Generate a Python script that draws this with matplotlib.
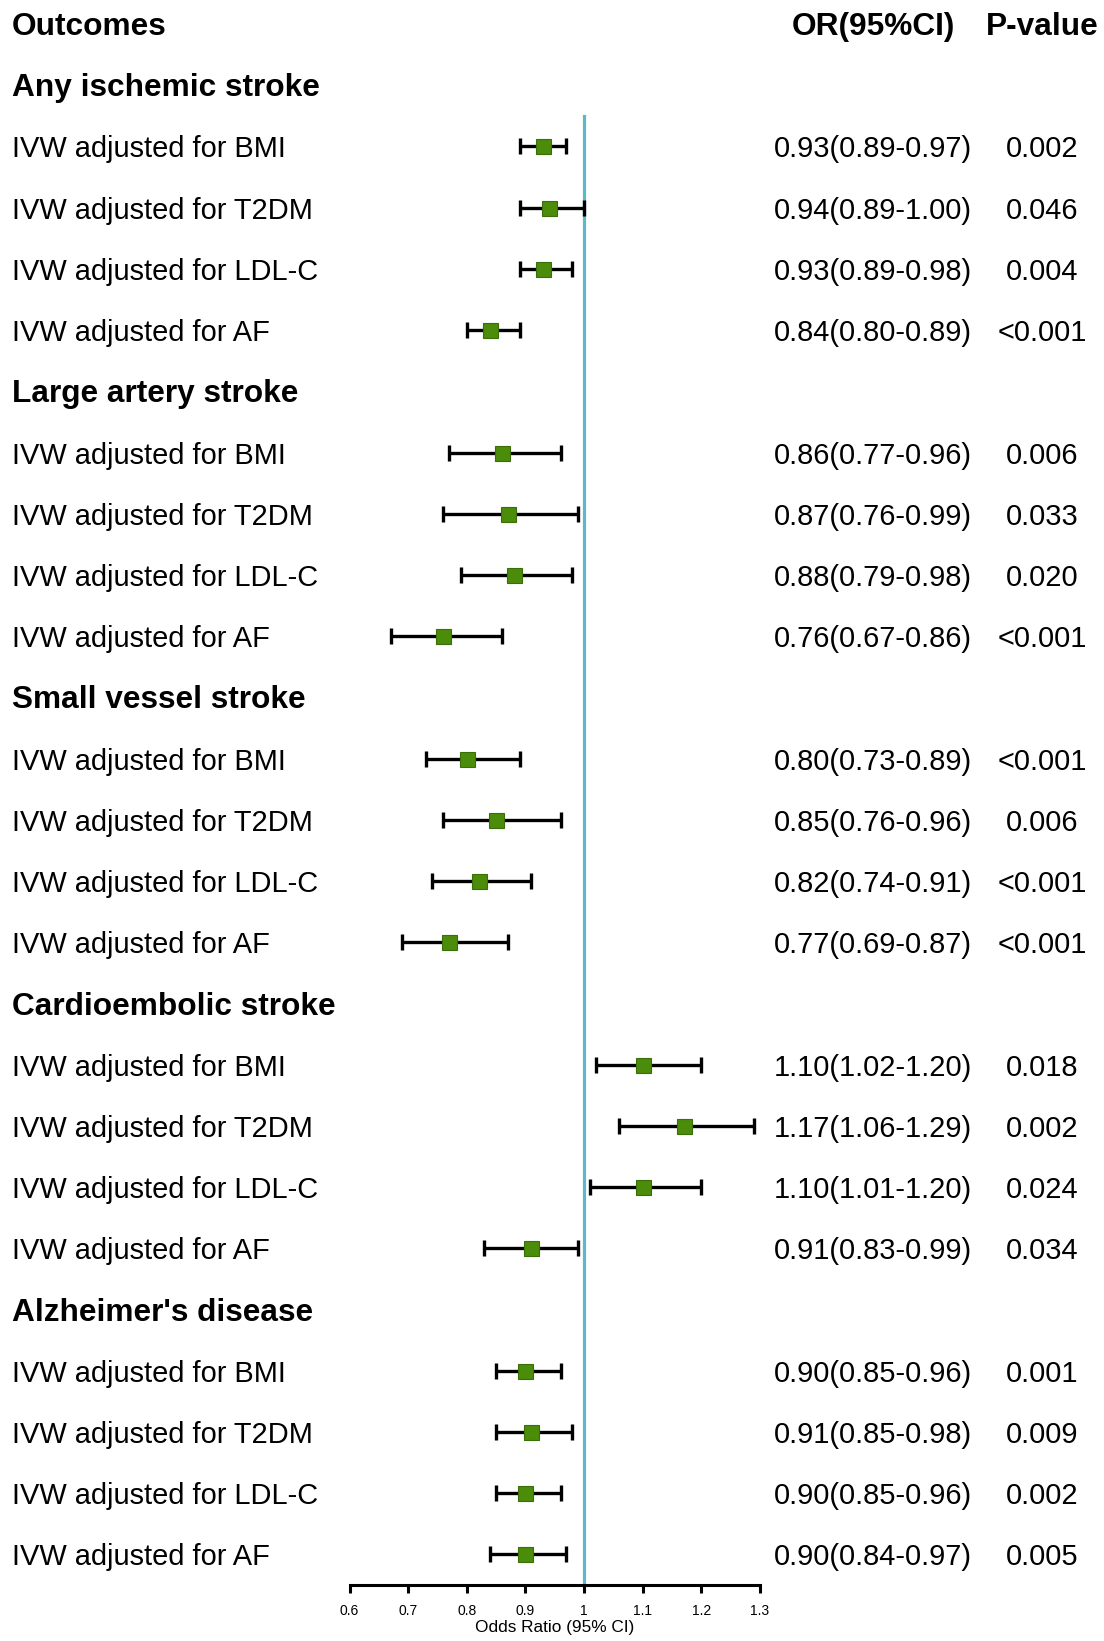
import numpy as np
import matplotlib
matplotlib.use('Agg')
import matplotlib.pyplot as plt
import matplotlib.transforms as mtrans

# Data
groups = ["Any ischemic stroke", "Large artery stroke", "Small vessel stroke",
          "Cardioembolic stroke", "Alzheimer's disease"]
methods = ["IVW adjusted for BMI", "IVW adjusted for T2DM",
           "IVW adjusted for LDL-C", "IVW adjusted for AF"]
or_vals = [0.93, 0.94, 0.93, 0.84,
           0.86, 0.87, 0.88, 0.76,
           0.80, 0.85, 0.82, 0.77,
           1.10, 1.17, 1.10, 0.91,
           0.90, 0.91, 0.90, 0.90]
ci_low = [0.89, 0.89, 0.89, 0.80,
          0.77, 0.76, 0.79, 0.67,
          0.73, 0.76, 0.74, 0.69,
          1.02, 1.06, 1.01, 0.83,
          0.85, 0.85, 0.85, 0.84]
ci_high = [0.97, 1.00, 0.98, 0.89,
           0.96, 0.99, 0.98, 0.86,
           0.89, 0.96, 0.91, 0.87,
           1.20, 1.29, 1.20, 0.99,
           0.96, 0.98, 0.96, 0.97]
p_vals = ["0.002", "0.046", "0.004", "<0.001",
          "0.006", "0.033", "0.020", "<0.001",
          "<0.001", "0.006", "<0.001", "<0.001",
          "0.018", "0.002", "0.024", "0.034",
          "0.001", "0.009", "0.002", "0.005"]
xticks = [0.6, 0.7, 0.8, 0.9, 1, 1.1, 1.2, 1.3]
xticklabels = ['0.6', '0.7', '0.8', '0.9', '1', '1.1', '1.2', '1.3']

# Style
plt.rcParams['font.family'] = ['Liberation Sans', 'DejaVu Sans']
W, H = 1104, 1641
fsize = 20.9
hsize = 22.8
green = '#4b8c0a'
green_edge = '#3b6d08'
refcol = '#5fb8c8'
dy = 0.05  # small downward shift of text relative to the marks

# Row layout: row 0 header, then heading + 4 rows per group
rows_y = []
head_y = []
r = 1
for g in groups:
    head_y.append(r)
    rows_y.extend([r + 1, r + 2, r + 3, r + 4])
    r += 5
rows_y = np.array(rows_y)
last_row = r - 1

fig = plt.figure(figsize=(W / 100, H / 100), dpi=100)
ax_left = 349.5 / W
ax_right = 760 / W
ax_bottom = 1 - 1585 / H
ax = fig.add_axes([ax_left, ax_bottom, ax_right - ax_left, 1585 / H])
ax.set_xlim(0.6, 1.3)
ax.set_ylim(last_row + 0.5, -24 / 61.2)

# Reference line at OR = 1
ax.plot([1, 1], [1.5, last_row + 0.5], color=refcol, linewidth=2.3, zorder=1)

# Error bars and points
or_arr = np.array(or_vals)
lo_arr = np.array(ci_low)
hi_arr = np.array(ci_high)
ax.errorbar(or_arr, rows_y, xerr=[or_arr - lo_arr, hi_arr - or_arr], fmt='none',
            ecolor='black', elinewidth=2.4, capsize=5.5, capthick=2.4, zorder=2)
ax.plot(or_arr, rows_y, 's', markersize=10.8, markerfacecolor=green,
        markeredgecolor=green_edge, markeredgewidth=0.8, zorder=3)

# Axis styling
for s in ['top', 'left', 'right']:
    ax.spines[s].set_visible(False)
ax.spines['bottom'].set_linewidth(2.2)
ax.set_xticks(xticks)
ax.set_xticklabels(xticklabels, fontsize=10)
ax.tick_params(axis='x', length=6, width=2.2, pad=8)
ax.set_yticks([])
ax.set_xlabel('Odds Ratio (95% CI)', fontsize=12.4, labelpad=1)
ax.patch.set_alpha(0)

# Table texts
tr = mtrans.blended_transform_factory(fig.transFigure, ax.transData)
x_lab = 11.5 / W
x_or = 873 / W
x_p = 1042 / W
ax.text(x_lab, dy, 'Outcomes', transform=tr, fontsize=hsize, fontweight='bold',
        ha='left', va='center', clip_on=False)
ax.text(x_or, dy, 'OR(95%CI)', transform=tr, fontsize=hsize, fontweight='bold',
        ha='center', va='center', clip_on=False)
ax.text(x_p, dy, 'P-value', transform=tr, fontsize=hsize, fontweight='bold',
        ha='center', va='center', clip_on=False)
for g, y in zip(groups, head_y):
    ax.text(x_lab, y + dy, g, transform=tr, fontsize=hsize, fontweight='bold',
            ha='left', va='center', clip_on=False)
for i, y in enumerate(rows_y):
    ax.text(x_lab, y + dy, methods[i % 4], transform=tr, fontsize=fsize,
            ha='left', va='center', clip_on=False)
    ax.text(x_or, y + dy, '%.2f(%.2f-%.2f)' % (or_vals[i], ci_low[i], ci_high[i]),
            transform=tr, fontsize=fsize, ha='center', va='center', clip_on=False)
    ax.text(x_p, y + dy, p_vals[i], transform=tr, fontsize=fsize,
            ha='center', va='center', clip_on=False)

plt.savefig('out.png', dpi=100)
plt.close()
